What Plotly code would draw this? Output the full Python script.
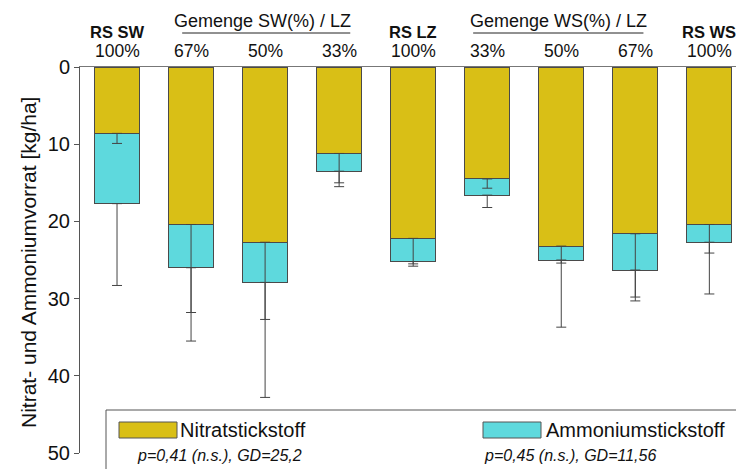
import plotly.graph_objects as go

# ---------------- data ----------------
categories = ["RS SW", "SW 67%", "SW 50%", "SW 33%", "RS LZ",
              "WS 33%", "WS 50%", "WS 67%", "RS WS"]
pure_labels = ["RS SW", "", "", "", "RS LZ", "", "", "", "RS WS"]
percent_labels = ["100%", "67%", "50%", "33%", "100%", "33%", "50%", "67%", "100%"]
group_labels = ["Gemenge SW(%) / LZ", "Gemenge WS(%) / LZ"]
group_centers = [2, 6]
nitrate = [8.6, 20.4, 22.7, 11.2, 22.2, 14.5, 23.2, 21.6, 20.4]
ammonium = [9.1, 5.6, 5.2, 2.3, 3.0, 2.1, 1.8, 4.7, 2.3]
nitrate_err = [1.3, 11.4, 10.0, 3.8, 3.3, 1.2, 2.2, 8.2, 3.7]
ammonium_err = [10.6, 9.5, 14.9, 2.0, 0.6, 1.6, 8.7, 4.0, 6.7]
series_names = ["Nitratstickstoff", "Ammoniumstickstoff"]
stats_text = ["p=0,41 (n.s.), GD=25,2", "p=0,45 (n.s.), GD=11,56"]
y_title = "Nitrat- und Ammoniumvorrat [kg/ha]"

totals = [n + a for n, a in zip(nitrate, ammonium)]

YELLOW = "#D9BF16"
CYAN = "#5ED9DD"
EDGE = "#4a4a4a"
FONT = "Liberation Sans, Arial, sans-serif"

W, H = 736, 469
ML, MR, MT, MB = 80, 0, 67, 16
PH = H - MT - MB


def py(p):
    return 1 + (MT - p) / PH


def px(p):
    return (p - ML) / (W - ML - MR)


def txt(x, y, text, size, xref="paper", xanchor="center", **kw):
    d = dict(x=x, y=y, xref=xref, yref="paper", text=text, showarrow=False,
             xanchor=xanchor, yanchor="middle", borderpad=0,
             font=dict(size=size, color="#111", family=FONT))
    d.update(kw)
    return d


fig = go.Figure()
fig.add_trace(go.Bar(x=categories, y=nitrate, name=series_names[0], width=0.61,
                     marker=dict(color=YELLOW, line=dict(color=EDGE, width=1))))
fig.add_trace(go.Bar(x=categories, y=ammonium, name=series_names[1], width=0.61,
                     marker=dict(color=CYAN, line=dict(color=EDGE, width=1))))
# error bars (drawn on top of bars)
for yv, ev in [(nitrate, nitrate_err), (totals, ammonium_err)]:
    fig.add_trace(go.Scatter(x=categories, y=yv, mode="markers",
                             marker=dict(opacity=0, size=1), hoverinfo="skip",
                             error_y=dict(type="data", symmetric=False, array=ev,
                                          arrayminus=[0] * len(ev),
                                          color="#444", thickness=1, width=5)))

annotations = []
for i, c in enumerate(categories):
    annotations.append(txt(c, py(50.5), percent_labels[i], 17.5, xref="x"))
    if pure_labels[i]:
        annotations.append(txt(c, py(31.5), "<b>" + pure_labels[i] + "</b>", 16.5, xref="x"))
for g, cx in zip(group_labels, group_centers):
    annotations.append(txt(cx - 0.04, py(21), g, 18, xref="x"))

annotations.append(txt(px(28), py(263), y_title, 21, textangle=-90))

# legend
annotations.append(txt(px(179), py(430), series_names[0], 20, xanchor="left"))
annotations.append(txt(px(545), py(430), series_names[1], 20, xanchor="left"))
annotations.append(txt(px(136), py(455), "<i>" + stats_text[0] + "</i>", 16, xanchor="left"))
annotations.append(txt(px(483), py(455), "<i>" + stats_text[1] + "</i>", 16, xanchor="left"))

shapes = [
    dict(type="line", xref="x", yref="paper", x0=0.88, x1=3.15, y0=py(33), y1=py(33),
         line=dict(color="#222", width=1)),
    dict(type="line", xref="x", yref="paper", x0=4.81, x1=7.11, y0=py(33), y1=py(33),
         line=dict(color="#222", width=1)),
    dict(type="rect", xref="paper", yref="paper", x0=px(106), x1=px(760), y0=py(490), y1=py(410),
         line=dict(color="#555", width=1), fillcolor="white", layer="above"),
    dict(type="rect", xref="paper", yref="paper", x0=px(119), x1=px(177), y0=py(438), y1=py(422),
         line=dict(color="#555", width=1), fillcolor=YELLOW, layer="above"),
    dict(type="rect", xref="paper", yref="paper", x0=px(483), x1=px(541), y0=py(438), y1=py(422),
         line=dict(color="#555", width=1), fillcolor=CYAN, layer="above"),
]

fig.update_layout(
    width=W, height=H, margin=dict(l=ML, r=MR, t=MT, b=MB),
    barmode="stack", showlegend=False,
    plot_bgcolor="white", paper_bgcolor="white",
    font=dict(family=FONT, color="#111"),
    annotations=annotations, shapes=shapes,
    xaxis=dict(side="top", range=[-0.5, 8.36], showline=True, linecolor="#777", linewidth=1,
               showticklabels=False, ticks="", showgrid=False, zeroline=False),
    yaxis=dict(range=[50, 0], tickvals=[0, 10, 20, 30, 40, 50], ticks="outside", ticklen=5,
               tickcolor="#555", showline=True, linecolor="#555", linewidth=1,
               showgrid=False, zeroline=False, tickfont=dict(size=20, color="#111", family=FONT)),
)

fig.write_html("out.html")
